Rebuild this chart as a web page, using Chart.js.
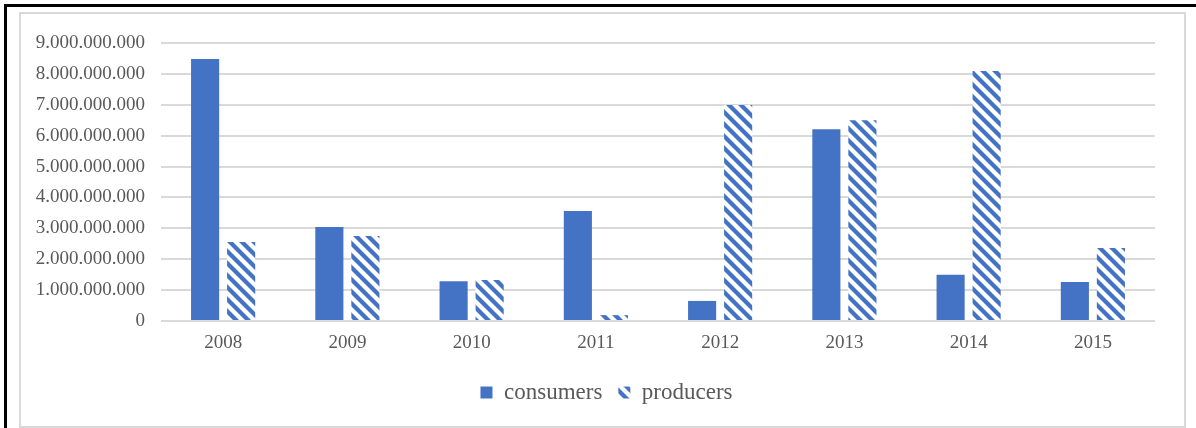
<!DOCTYPE html>
<html>
<head>
<meta charset="utf-8">
<script src="https://cdn.jsdelivr.net/npm/chart.js@4.4.0/dist/chart.umd.min.js"></script>
<style>
  html, body { margin: 0; padding: 0; background: #fff; }
  #page { position: relative; width: 1196px; height: 428px; overflow: hidden; }
  #outer { position: absolute; left: 4px; top: 4px; right: -10px; bottom: -10px; border-left: 3px solid #000; border-top: 3px solid #000; }
  #inner { position: absolute; left: 19px; top: 12px; width: 1163px; height: 412px; border: 2px solid #d9d9d9; }
  #wrap { position: absolute; left: 0; top: 0; width: 1196px; height: 428px; }
</style>
</head>
<body>
<div id="page">
  <div id="outer"></div>
  <div id="inner"></div>
  <div id="wrap"><canvas id="chart"></canvas></div>
</div>
<script>
const years = ['2008', '2009', '2010', '2011', '2012', '2013', '2014', '2015'];
const consumers = [8480000000, 3040000000, 1290000000, 3560000000, 650000000, 6210000000, 1500000000, 1260000000];
const producers = [2560000000, 2750000000, 1330000000, 190000000, 6990000000, 6500000000, 8090000000, 2360000000];
const yTickLabels = ['0', '1.000.000.000', '2.000.000.000', '3.000.000.000', '4.000.000.000',
  '5.000.000.000', '6.000.000.000', '7.000.000.000', '8.000.000.000', '9.000.000.000'];

const blue = '#4472c4';
const textGray = '#595959';

// diagonal stripe fill for the producers bars
function stripes() {
  const c = document.createElement('canvas');
  c.width = 12;
  c.height = 12;
  const g = c.getContext('2d');
  g.fillStyle = '#fff';
  g.fillRect(0, 0, 12, 12);
  g.strokeStyle = blue;
  g.lineWidth = 4.2;
  [-12, 0, 12].forEach(k => {
    g.beginPath();
    g.moveTo(k - 2, -2);
    g.lineTo(k + 14, 14);
    g.stroke();
  });
  return g.createPattern(c, 'repeat');
}

// the legend sits a bit right of the canvas centre in the original
const legendShift = {
  id: 'legendShift',
  afterLayout(chart) {
    chart.legend.left += 29;
    chart.legend.right += 29;
  }
};

const ctx = document.getElementById('chart').getContext('2d');

Chart.defaults.font.family = "'Liberation Serif', 'Times New Roman', serif";
Chart.defaults.color = textGray;

new Chart(ctx, {
  type: 'bar',
  data: {
    labels: years,
    datasets: [{
      label: 'consumers',
      data: consumers,
      backgroundColor: blue,
      borderWidth: 0
    }, {
      label: 'producers',
      data: producers,
      backgroundColor: stripes(),
      borderWidth: 0
    }]
  },
  options: {
    responsive: true,
    maintainAspectRatio: false,
    animation: false,
    categoryPercentage: 0.58,
    barPercentage: 0.78,
    layout: {
      padding: { left: 0, right: 41, top: 43, bottom: 14 }
    },
    scales: {
      x: {
        grid: { display: false, drawTicks: false },
        border: { display: false },
        ticks: { color: textGray, font: { size: 19 }, padding: 11 },
        afterFit: s => { s.height = 44; }
      },
      y: {
        min: 0,
        max: 9000000000,
        grid: { color: '#d9d9d9', lineWidth: 2, drawTicks: false },
        border: { display: false },
        ticks: {
          stepSize: 1000000000,
          color: textGray,
          font: { size: 19 },
          padding: 16,
          callback: (v, i) => yTickLabels[i]
        },
        afterFit: s => { s.width = 161; }
      }
    },
    plugins: {
      legend: {
        position: 'bottom',
        labels: {
          boxWidth: 12,
          boxHeight: 12,
          padding: 16,
          color: textGray,
          font: { size: 23 }
        }
      },
      tooltip: { enabled: false }
    }
  },
  plugins: [legendShift]
});
</script>
</body>
</html>
